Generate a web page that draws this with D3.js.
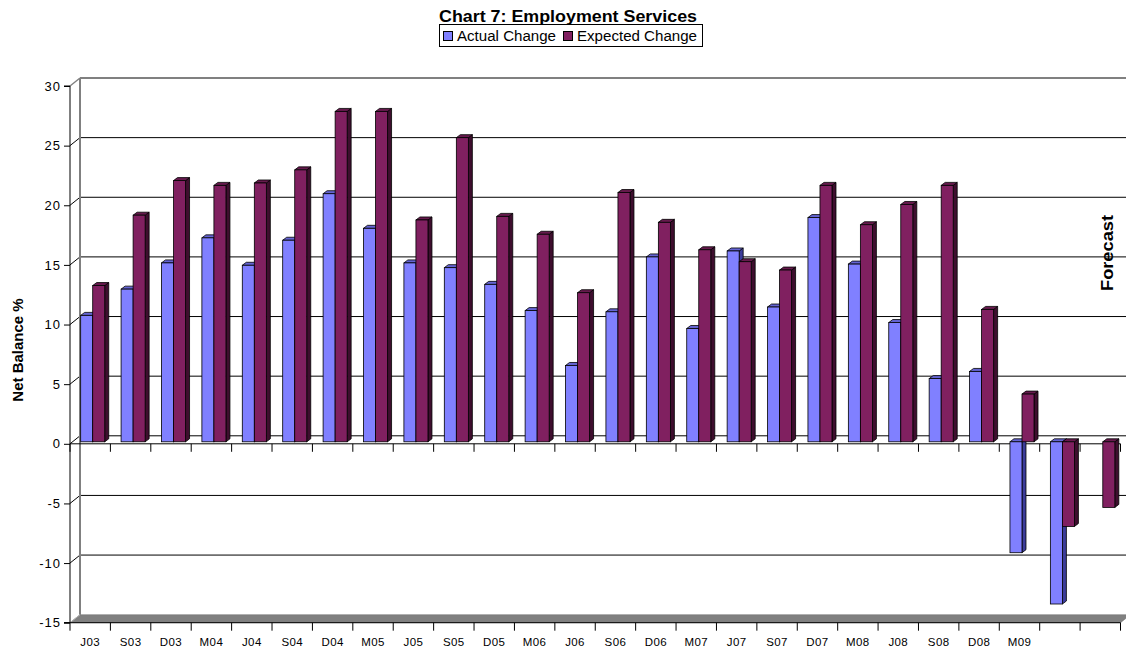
<!DOCTYPE html>
<html>
<head>
<meta charset="utf-8">
<script src="https://cdn.jsdelivr.net/npm/d3@7"></script>
<style>
html,body{margin:0;padding:0;background:#fff;}
svg{display:block;font-family:"Liberation Sans",Arial,sans-serif;}
</style>
</head>
<body>
<svg id="chart" width="1126" height="649"></svg>
<script>
const categories = ["J03","S03","D03","M04","J04","S04","D04","M05","J05","S05","D05","M06","J06","S06","D06","M07","J07","S07","D07","M08","J08","S08","D08","M09","",""];
const actualChange = [10.6,12.8,15.0,17.1,14.8,16.9,20.8,17.9,15.0,14.6,13.2,11.0,6.4,10.9,15.5,9.5,16.0,11.3,18.8,14.9,10.0,5.3,5.9,-9.3,-13.6,null];
const expectedChange = [13.1,19.0,21.9,21.5,21.7,22.8,27.7,27.7,18.6,25.5,18.9,17.4,12.5,20.9,18.4,16.1,15.1,14.4,21.5,18.2,19.9,21.5,11.1,4.0,-7.1,-5.5];
const seriesNames = ["Actual Change","Expected Change"];
const yTicks = [-15,-10,-5,0,5,10,15,20,25,30];

const colors = {
  "Actual Change": {front:"#8080FF", top:"#6464D2", side:"#3C3C9A"},
  "Expected Change": {front:"#802060", top:"#661A4D", side:"#3E0E2E"}
};

const svg = d3.select("#chart");
const W = 1126;
const depth = {dx:10, dy:-8};       // wall depth
const barOff = {dx:2.5, dy:-2};     // bar front face offset
const barDepth = {dx:4, dy:-3};     // bar thickness

const x0 = d3.scaleBand().domain(d3.range(categories.length)).range([70, 1120.5]).paddingInner(0).paddingOuter(0);
const x1 = d3.scaleBand().domain(seriesNames).range([0, x0.bandwidth()]).paddingInner(0).paddingOuter(0.68);
const y = d3.scaleLinear().domain([-15, 30]).range([622.7, 86]);

const xL = x0.range()[0], xR = x0.range()[1];

// back wall gridlines
const g = svg.append("g");
yTicks.filter(v => v > -15).forEach(v => {
  g.append("line")
    .attr("x1", xL + depth.dx).attr("x2", W + 2)
    .attr("y1", y(v) + depth.dy).attr("y2", y(v) + depth.dy)
    .attr("stroke", v === 30 ? "#808080" : "#000")
    .attr("stroke-width", v === 30 ? 2 : 1);
  g.append("line")
    .attr("x1", xL).attr("y1", y(v))
    .attr("x2", xL + depth.dx).attr("y2", y(v) + depth.dy)
    .attr("stroke", v === 30 ? "#808080" : "#000")
    .attr("stroke-width", v === 30 ? 1.5 : 1);
});
g.append("line")
  .attr("x1", xL + depth.dx).attr("x2", xL + depth.dx)
  .attr("y1", y(30) + depth.dy).attr("y2", y(-15) + depth.dy)
  .attr("stroke", "#808080").attr("stroke-width", 2);

// floor
const yf = y(-15);
g.append("polygon")
  .attr("points", [[xL, yf],[xR, yf],[xR + depth.dx, yf + depth.dy],[xL + depth.dx, yf + depth.dy]].map(p => p.join(",")).join(" "))
  .attr("fill", "#808080").attr("stroke", "#6a6a6a").attr("stroke-width", 0.5);
g.append("line")
  .attr("x1", xL).attr("y1", yf).attr("x2", xL + depth.dx).attr("y2", yf + depth.dy)
  .attr("stroke", "#b0b0b0").attr("stroke-width", 1);

// zero axis line with ticks
const boundaries = d3.range(categories.length + 1).map(i => i < categories.length ? x0(i) : xR);
g.append("line")
  .attr("x1", xL).attr("x2", xR).attr("y1", y(0)).attr("y2", y(0))
  .attr("stroke", "#000").attr("stroke-width", 1);
boundaries.forEach(b => {
  g.append("line").attr("x1", b).attr("x2", b).attr("y1", y(0)).attr("y2", y(0) + 8)
    .attr("stroke", "#000").attr("stroke-width", 1);
});

// bars
const barsG = svg.append("g");
categories.forEach((c, i) => {
  [[seriesNames[0], actualChange[i]], [seriesNames[1], expectedChange[i]]].forEach(([s, v]) => {
    if (v === null || v === undefined) return;
    const col = colors[s];
    const fx = x0(i) + x1(s) + barOff.dx;
    const w = x1.bandwidth();
    const yt = y(Math.max(v, 0)) + barOff.dy;
    const yb = y(Math.min(v, 0)) + barOff.dy;
    const bg = barsG.append("g");
    bg.append("polygon")
      .attr("points", [[fx + w, yt],[fx + w + barDepth.dx, yt + barDepth.dy],[fx + w + barDepth.dx, yb + barDepth.dy],[fx + w, yb]].map(p => p.join(",")).join(" "))
      .attr("fill", col.side).attr("stroke", "#000").attr("stroke-width", 0.8).attr("stroke-linejoin", "round");
    bg.append("polygon")
      .attr("points", [[fx, yt],[fx + barDepth.dx, yt + barDepth.dy],[fx + w + barDepth.dx, yt + barDepth.dy],[fx + w, yt]].map(p => p.join(",")).join(" "))
      .attr("fill", col.top).attr("stroke", "#000").attr("stroke-width", 0.8).attr("stroke-linejoin", "round");
    bg.append("rect")
      .attr("x", fx).attr("y", yt).attr("width", w).attr("height", Math.max(0, yb - yt))
      .attr("fill", col.front).attr("stroke", "#000").attr("stroke-width", 0.8);
  });
});

// y axis
const yAxis = d3.axisLeft(y).tickValues(yTicks).tickSize(6).tickPadding(3).tickFormat(d => String(d));
const ya = svg.append("g").attr("transform", `translate(${xL},0)`).call(yAxis);
ya.select(".domain").attr("stroke", "#000").attr("d", `M-6,${y(30)}H0V${y(-15)}H-6`);
ya.selectAll(".tick line").attr("stroke", "#000");
ya.selectAll(".tick text").attr("fill", "#000").style("font-size", "13px").style("letter-spacing", "1px")
  .attr("font-family", "Liberation Sans, Arial, sans-serif");

// bottom axis
svg.append("line").attr("x1", xL - 6).attr("x2", xR).attr("y1", yf).attr("y2", yf).attr("stroke", "#000");
boundaries.forEach(b => {
  svg.append("line").attr("x1", b).attr("x2", b).attr("y1", yf).attr("y2", yf + 8).attr("stroke", "#000");
});
svg.append("g").selectAll("text").data(categories).join("text")
  .attr("x", (d, i) => x0(i) + x0.bandwidth() / 2)
  .attr("y", 645.5)
  .attr("text-anchor", "middle")
  .style("font-size", "11.5px").style("letter-spacing", "0.4px")
  .text(d => d);

// axis title
svg.append("text")
  .attr("transform", "translate(23,350) rotate(-90)")
  .attr("text-anchor", "middle")
  .style("font-size", "15px").style("font-weight", "bold")
  .text("Net Balance %");

// forecast label
svg.append("text")
  .attr("transform", "translate(1113,253) rotate(-90)")
  .attr("text-anchor", "middle")
  .style("font-size", "16px").style("font-weight", "bold")
  .attr("textLength", 76).attr("lengthAdjust", "spacingAndGlyphs")
  .text("Forecast");

// title
svg.append("text")
  .attr("x", 568).attr("y", 21.5)
  .attr("text-anchor", "middle")
  .style("font-size", "16.5px").style("font-weight", "bold")
  .attr("textLength", 258).attr("lengthAdjust", "spacingAndGlyphs")
  .text("Chart 7: Employment Services");

// legend
const lg = svg.append("g");
lg.append("rect").attr("x", 439.5).attr("y", 24.5).attr("width", 263).attr("height", 22)
  .attr("fill", "#fff").attr("stroke", "#000").attr("stroke-width", 1);
const legendItems = [
  {name: seriesNames[0], sx: 443, tx: 457, tl: 99},
  {name: seriesNames[1], sx: 563, tx: 577, tl: 120}
];
legendItems.forEach(it => {
  lg.append("rect").attr("x", it.sx + 0.5).attr("y", 31.5).attr("width", 9).attr("height", 9)
    .attr("fill", colors[it.name].front).attr("stroke", "#000").attr("stroke-width", 1);
  lg.append("text").attr("x", it.tx).attr("y", 40.5)
    .style("font-size", "14px")
    .attr("textLength", it.tl).attr("lengthAdjust", "spacingAndGlyphs")
    .text(it.name);
});
</script>
</body>
</html>
